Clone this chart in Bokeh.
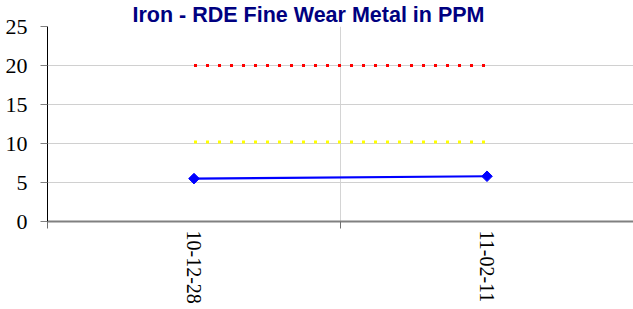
import math
from bokeh.plotting import figure
from bokeh.models import FixedTicker, Title
from bokeh.embed import file_html
from bokeh.resources import INLINE

title_text = "Iron - RDE Fine Wear Metal in PPM"
dates = ["10-12-28", "11-02-11"]
iron = [5.5, 5.8]
upper_limit = [20.0, 20.0]
lower_limit = [10.2, 10.2]
y_ticks = [0, 5, 10, 15, 20, 25]

xs = [i + 0.5 for i in range(len(dates))]

p = figure(width=633, height=309, output_backend="svg", toolbar_location=None,
           x_range=(0, len(dates)), y_range=(0, 25),
           min_border_left=47, min_border_right=0, min_border_top=25, min_border_bottom=88)
p.title = Title(text=title_text, text_color="#000080",
                text_font="Liberation Sans", text_font_size="21.5px", text_font_style="bold",
                text_line_height=0.8, align="left", offset=85, standoff=0)
p.outline_line_color = None
p.background_fill_color = "white"

p.line(xs, upper_limit, line_color="red", line_width=3, line_dash="3 9")
p.line(xs, lower_limit, line_color="yellow", line_width=3, line_dash="3 9")
p.line(xs, iron, line_color="blue", line_width=2.2)
p.scatter(xs, iron, marker="square", angle=math.pi / 4, size=7.5, color="blue")

# x axis
p.xaxis.ticker = FixedTicker(ticks=xs, minor_ticks=list(range(len(dates) + 1)))
p.xaxis.major_label_overrides = {x: d for x, d in zip(xs, dates)}
p.xaxis.major_label_orientation = -math.pi / 2
p.xaxis.major_tick_out = 0
p.xaxis.major_tick_in = 0
p.xaxis.minor_tick_out = 7
p.xaxis.minor_tick_in = 0
p.xaxis.minor_tick_line_color = "#707070"
p.xaxis.axis_line_color = "#808080"
p.xaxis.axis_line_width = 2
p.xaxis.major_label_text_font = "Liberation Sans Narrow"
p.xaxis.major_label_text_font_size = "20px"
p.xaxis.major_label_text_color = "black"
p.xaxis.major_label_standoff = 2

# y axis
p.yaxis.ticker = FixedTicker(ticks=y_ticks, minor_ticks=[])
p.yaxis.axis_line_color = "black"
p.yaxis.major_tick_out = 7
p.yaxis.major_tick_in = 0
p.yaxis.major_tick_line_color = "#808080"
p.yaxis.major_label_text_font = "Liberation Sans Narrow"
p.yaxis.major_label_text_font_size = "22px"
p.yaxis.major_label_text_color = "black"
p.yaxis.major_label_standoff = 13

p.xgrid.ticker = FixedTicker(ticks=list(range(1, len(dates))))
p.xgrid.grid_line_color = "#d4d4d4"
p.xgrid.grid_line_width = 1
p.ygrid.grid_line_color = "#d0d0d0"
p.ygrid.grid_line_width = 1

open("out.html", "w").write(file_html(p, INLINE))
